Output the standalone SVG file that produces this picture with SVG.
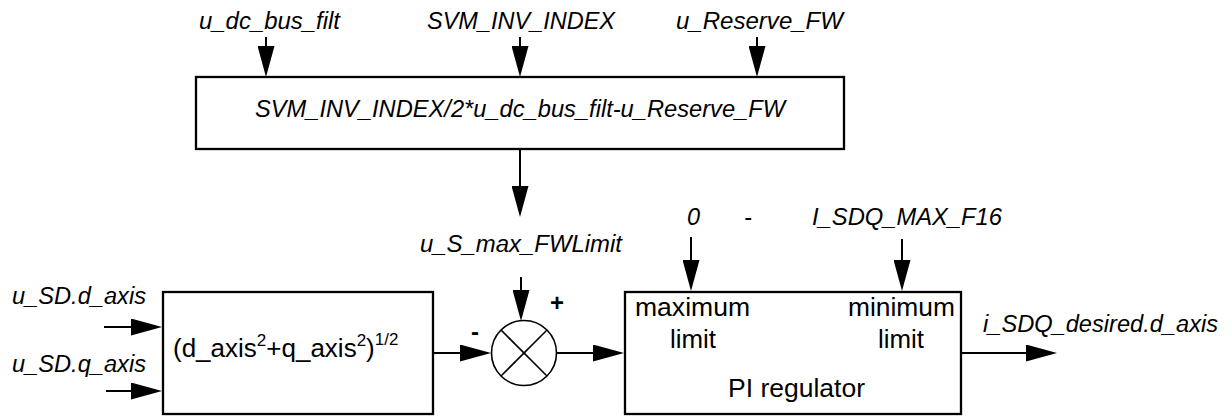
<svg xmlns="http://www.w3.org/2000/svg" width="1232" height="416" viewBox="0 0 1232 416">
<style>
.lbl{font-family:"Liberation Sans",Arial,sans-serif;font-style:italic;font-size:23.5px;fill:#000}
.body{font-family:"Liberation Sans",Arial,sans-serif;font-size:26px;fill:#000}
.sign{font-family:"Liberation Sans",Arial,sans-serif;font-weight:bold;font-size:24px;fill:#000}
.box{fill:#fff;stroke:#000;stroke-width:2.3}
.wire{fill:none;stroke:#000;stroke-width:2}
</style>
<defs>
<marker id="ah" markerUnits="userSpaceOnUse" markerWidth="31" markerHeight="17" refX="27" refY="8.5" orient="auto" viewBox="0 0 31 17">
<path d="M0,0 L31,8.5 L0,17 Z" fill="#000"/>
</marker>
</defs>
<rect width="1232" height="416" fill="#fff"/>
<g id="connectors">
<line class="wire" x1="266" y1="37" x2="266" y2="73" marker-end="url(#ah)"/>
<line class="wire" x1="520" y1="37" x2="520" y2="73" marker-end="url(#ah)"/>
<line class="wire" x1="757" y1="37" x2="757" y2="73" marker-end="url(#ah)"/>
<line class="wire" x1="520" y1="149" x2="520" y2="213" marker-end="url(#ah)"/>
<line class="wire" x1="521" y1="277" x2="521" y2="317" marker-end="url(#ah)"/>
<line class="wire" x1="104" y1="327" x2="158" y2="327" marker-end="url(#ah)"/>
<line class="wire" x1="106" y1="391" x2="158" y2="391" marker-end="url(#ah)"/>
<line class="wire" x1="433" y1="353" x2="487" y2="353" marker-end="url(#ah)"/>
<line class="wire" x1="557" y1="353" x2="620" y2="353" marker-end="url(#ah)"/>
<line class="wire" x1="691" y1="237" x2="691" y2="287" marker-end="url(#ah)"/>
<line class="wire" x1="902" y1="239" x2="902" y2="287" marker-end="url(#ah)"/>
<line class="wire" x1="962" y1="353" x2="1053" y2="353" marker-end="url(#ah)"/>
</g>
<g id="in_udc"><text class="lbl" x="199" y="29" textLength="141" lengthAdjust="spacingAndGlyphs">u_dc_bus_filt</text></g>
<g id="in_svm"><text class="lbl" x="427" y="29" textLength="188" lengthAdjust="spacingAndGlyphs">SVM_INV_INDEX</text></g>
<g id="in_ures"><text class="lbl" x="676" y="29" textLength="167" lengthAdjust="spacingAndGlyphs">u_Reserve_FW</text></g>
<g id="calc">
<rect class="box" x="196" y="77" width="648" height="72"/>
<text class="lbl" x="255" y="117" textLength="530" lengthAdjust="spacingAndGlyphs">SVM_INV_INDEX/2*u_dc_bus_filt-u_Reserve_FW</text>
</g>
<g id="lbl_usmax"><text class="lbl" x="420" y="252" textLength="202" lengthAdjust="spacingAndGlyphs">u_S_max_FWLimit</text></g>
<g id="in_usd"><text class="lbl" x="12" y="304" textLength="134" lengthAdjust="spacingAndGlyphs">u_SD.d_axis</text></g>
<g id="in_usq"><text class="lbl" x="12" y="372" textLength="134" lengthAdjust="spacingAndGlyphs">u_SD.q_axis</text></g>
<g id="magnitude">
<rect class="box" x="163" y="292" width="270" height="122"/>
<text class="body" x="173" y="357">(d_axis<tspan font-size="17" dy="-11">2</tspan><tspan dy="11">+q_axis</tspan><tspan font-size="17" dy="-11">2</tspan><tspan dy="11">)</tspan><tspan font-size="17" dy="-12">1/2</tspan></text>
</g>
<g id="sum">
<circle cx="524" cy="353" r="32.5" fill="#fff" stroke="#000" stroke-width="1.6"/>
<line x1="501" y1="330" x2="547" y2="376" stroke="#000" stroke-width="1.6"/>
<line x1="547" y1="330" x2="501" y2="376" stroke="#000" stroke-width="1.6"/>
<text class="sign" x="475" y="340" text-anchor="middle">-</text>
<text class="sign" x="557" y="311" text-anchor="middle">+</text>
</g>
<g id="lbl_max"><text class="lbl" x="687" y="225">0</text><text class="lbl" x="744" y="225">-</text></g>
<g id="lbl_min"><text class="lbl" x="812" y="225" textLength="190" lengthAdjust="spacingAndGlyphs">I_SDQ_MAX_F16</text></g>
<g id="pi">
<rect class="box" x="625" y="292" width="336" height="122"/>
<text class="body" x="635" y="316" textLength="115" lengthAdjust="spacingAndGlyphs">maximum</text>
<text class="body" x="670" y="348" textLength="46" lengthAdjust="spacingAndGlyphs">limit</text>
<text class="body" x="848" y="316" textLength="107" lengthAdjust="spacingAndGlyphs">minimum</text>
<text class="body" x="878" y="348" textLength="46" lengthAdjust="spacingAndGlyphs">limit</text>
<text class="body" x="728" y="397" textLength="137" lengthAdjust="spacingAndGlyphs">PI regulator</text>
</g>
<g id="out"><text class="lbl" x="983" y="332" textLength="235" lengthAdjust="spacingAndGlyphs">i_SDQ_desired.d_axis</text></g>
</svg>
